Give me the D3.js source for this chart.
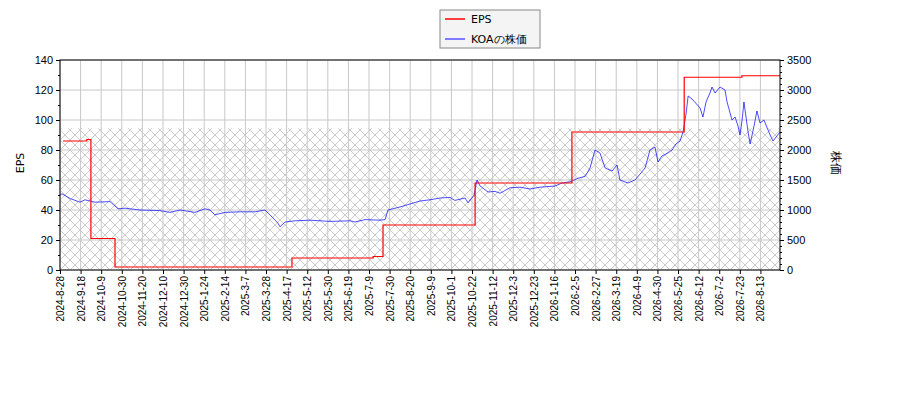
<!DOCTYPE html>
<html><head><meta charset="utf-8">
<script src="https://cdn.jsdelivr.net/npm/d3@7"></script>
<style>body{margin:0;background:#fff}svg{font-family:"DejaVu Sans",sans-serif}</style>
</head><body><svg id="c" width="900" height="400"></svg>
<script>
const tickLabels=["2024-8-28","2024-9-18","2024-10-9","2024-10-30","2024-11-20","2024-12-10","2024-12-30","2025-1-24","2025-2-14","2025-3-7","2025-3-28","2025-4-17","2025-5-12","2025-5-30","2025-6-19","2025-7-9","2025-7-30","2025-8-20","2025-9-9","2025-10-1","2025-10-22","2025-11-12","2025-12-3","2025-12-23","2026-1-16","2026-2-5","2026-2-27","2026-3-19","2026-4-9","2026-4-30","2026-5-25","2026-6-12","2026-7-2","2026-7-23","2026-8-13"];
// x positions in tick units (1 unit = one label interval)
const epsX=[0.15,1.3,1.5,2.67,11.26,15.2,15.68,20.15,24.85,30.3,33.1,34.95];
const epsV=[86,87,21,2,8,9,30,58,92,128.5,129.5,129.5];
const stockX=[0,0.1,0.5,0.97,1.21,1.7,2.43,2.82,3.16,3.88,4.85,5.34,5.83,6.55,7.04,7.28,7.52,8.01,8.74,9.47,9.95,10.19,10.58,10.68,10.92,11.41,12.14,13.11,14.08,14.32,14.81,15.53,15.78,15.92,16.5,16.99,17.48,17.96,18.45,18.93,19.17,19.66,19.81,20.1,20.24,20.39,20.78,21.12,21.36,21.84,22.33,22.82,23.3,24.03,24.37,24.76,25.15,25.49,25.73,25.97,26.21,26.46,26.8,27.04,27.18,27.57,27.91,28.16,28.4,28.64,28.88,29.03,29.22,29.51,29.71,29.9,30.1,30.24,30.39,30.49,30.68,31.07,31.21,31.36,31.55,31.65,31.8,32.04,32.28,32.38,32.62,32.77,32.91,33.01,33.11,33.2,33.4,33.5,33.69,33.83,33.98,34.17,34.47,34.61,34.95];
const stockV=[1250,1270,1190,1130,1170,1130,1140,1020,1030,1000,990,960,1000,960,1020,1000,920,960,970,970,1000,920,780,720,800,820,830,810,820,800,840,830,840,1000,1050,1100,1150,1170,1200,1210,1160,1200,1120,1250,1500,1400,1300,1310,1280,1370,1380,1350,1380,1400,1450,1470,1530,1560,1700,2000,1950,1700,1650,1750,1500,1450,1500,1600,1700,2000,2050,1800,1900,1950,2000,2100,2150,2300,2600,2900,2850,2700,2550,2800,2950,3050,2950,3050,3000,2800,2500,2550,2400,2250,2500,2800,2300,2100,2400,2650,2450,2500,2250,2150,2300];
const leftTicks=[0,20,40,60,80,100,120,140];
const rightTicks=[0,500,1000,1500,2000,2500,3000,3500];

const svg=d3.select("#c");
const L=60,R=780,T=60,B=270;
const x=d3.scaleLinear().domain([0,34.95]).range([L,R]);
const yL=d3.scaleLinear().domain([0,140]).range([B,T]);
const yR=d3.scaleLinear().domain([0,3500]).range([B,T]);

const defs=svg.append("defs");
const pat=defs.append("pattern").attr("id","h").attr("patternUnits","userSpaceOnUse").attr("width",10).attr("height",10);
pat.append("path").attr("d","M0,0L10,10M10,0L0,10").attr("stroke","#aaa").attr("stroke-width",0.6);
svg.append("rect").attr("x",L).attr("y",yL(94.5)).attr("width",R-L).attr("height",B-yL(94.5)).attr("fill","url(#h)");

const g=svg.append("g");
g.selectAll(".gy").data(leftTicks).join("line").attr("x1",L).attr("x2",R).attr("y1",d=>yL(d)).attr("y2",d=>yL(d)).attr("stroke","#c8c8c8");
g.selectAll(".gx").data(tickLabels).join("line").attr("x1",(d,i)=>x(i)).attr("x2",(d,i)=>x(i)).attr("y1",T).attr("y2",B).attr("stroke","#c8c8c8");

svg.append("path").datum(stockX.map((d,i)=>[d,stockV[i]])).attr("fill","none").attr("stroke","#0000ff").attr("stroke-width",0.7)
 .attr("d",d3.line().x(d=>x(d[0])).y(d=>yR(d[1])));
svg.append("path").datum(epsX.map((d,i)=>[d,epsV[i]])).attr("fill","none").attr("stroke","#ff0000").attr("stroke-width",1.2)
 .attr("d",d3.line().curve(d3.curveStepAfter).x(d=>x(d[0])).y(d=>yL(d[1])));

svg.append("rect").attr("x",L).attr("y",T).attr("width",R-L).attr("height",B-T).attr("fill","none").attr("stroke","#000");

const ax=svg.append("g").attr("transform",`translate(0,${B})`).call(d3.axisBottom(x).tickValues(d3.range(tickLabels.length)).tickFormat(i=>tickLabels[i]).tickSize(4));
ax.selectAll("text").attr("transform","rotate(-90)").attr("text-anchor","end").attr("x",-6).attr("y",0).attr("dy","0.35em").style("font-size","10px");
const al=svg.append("g").attr("transform",`translate(${L},0)`).call(d3.axisLeft(yL).tickValues(leftTicks).tickSize(4));
al.selectAll("text").style("font-size","11px");
svg.append("g").attr("transform",`translate(${L},0)`).call(d3.axisLeft(yL).tickValues(d3.range(10,140,20)).tickSize(2).tickFormat(""));
const ar=svg.append("g").attr("transform",`translate(${R},0)`).call(d3.axisRight(yR).tickValues(rightTicks).tickFormat(d3.format("d")).tickSize(4));
ar.selectAll("text").style("font-size","11px");
svg.append("g").attr("transform",`translate(${R},0)`).call(d3.axisRight(yR).tickValues(d3.range(100,3500,100).filter(v=>v%500)).tickSize(2).tickFormat(""));
svg.selectAll(".domain").remove();

svg.append("text").attr("transform","translate(24,163) rotate(-90)").attr("text-anchor","middle").style("font-size","11px").text("EPS");
svg.append("text").attr("transform","translate(832,163) rotate(90)").attr("text-anchor","middle").style("font-size","12px").text("株価");

const lg=svg.append("g");
lg.append("rect").attr("x",440).attr("y",10).attr("width",100).attr("height",38).attr("fill","#f4f4f4").attr("stroke","#888");
const items=[["EPS","#ff0000"],["KOAの株価","#5555ff"]];
items.forEach((d,i)=>{const yy=19+i*20;
 lg.append("line").attr("x1",445).attr("x2",465).attr("y1",yy).attr("y2",yy).attr("stroke",d[1]).attr("stroke-width",1.5);
 lg.append("text").attr("x",471).attr("y",yy+4).style("font-size","11px").text(d[0]);});
</script></body></html>
